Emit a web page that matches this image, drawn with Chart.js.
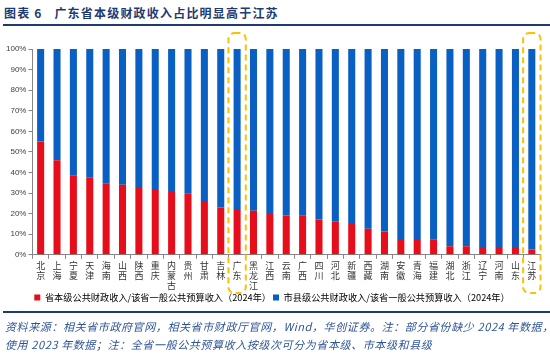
<!DOCTYPE html>
<html>
<head>
<meta charset="utf-8">
<script src="https://cdn.jsdelivr.net/npm/chart.js@4.4.1/dist/chart.umd.min.js"></script>
<style>
  html, body { margin: 0; padding: 0; background: #fff; }
  #wrap { position: relative; width: 550px; height: 355px; overflow: hidden; }
  #title { position: absolute; left: 4px; top: 4px; font: bold 12px "Noto Sans CJK SC", sans-serif; color: #1F3A70; letter-spacing: 1.2px; white-space: nowrap; }
  .rule { position: absolute; left: 3px; width: 547px; height: 2px; background: #1F3A6E; }
  #chartBox { position: absolute; left: 0; top: 28px; width: 550px; height: 284px; }
  #source { position: absolute; left: 5px; top: 317px; font: italic 11px "Noto Sans CJK SC", sans-serif; color: #2F5597; line-height: 18px; letter-spacing: 0.6px; white-space: nowrap; }
</style>
</head>
<body>
<div id="wrap">
  <div id="title">图表 6 &nbsp;&nbsp;广东省本级财政收入占比明显高于江苏</div>
  <div class="rule" style="top:24px"></div>
  <div id="chartBox"><canvas id="c" width="550" height="284"></canvas></div>
  <div class="rule" style="top:311px"></div>
  <div id="source">资料来源：相关省市政府官网，相关省市财政厅官网，Wind，华创证券。注：部分省份缺少 2024 年数据，<br>使用 2023 年数据；注：全省一般公共预算收入按级次可分为省本级、市本级和县级</div>
</div>
<script>
const provinces = ['北京','上海','宁夏','天津','海南','山西','陕西','重庆','内蒙古','贵州','甘肃','吉林','广东','黑龙江','江西','云南','广西','四川','河北','新疆','西藏','湖南','安徽','青海','福建','湖北','浙江','辽宁','河南','山东','江苏'];
const provincialShare = [55.0, 46.0, 38.6, 37.4, 34.8, 34.0, 33.0, 32.0, 30.5, 29.9, 26.1, 23.0, 22.2, 21.4, 19.8, 19.1, 19.0, 17.2, 16.0, 15.5, 12.6, 11.3, 7.7, 7.7, 7.5, 4.2, 4.2, 3.3, 3.3, 3.3, 2.6];
const cityCountyShare = [45.0, 54.0, 61.4, 62.6, 65.2, 66.0, 67.0, 68.0, 69.5, 70.1, 73.9, 77.0, 77.8, 78.6, 80.2, 80.9, 81.0, 82.8, 84.0, 84.5, 87.4, 88.7, 92.3, 92.3, 92.5, 95.8, 95.8, 96.7, 96.7, 96.7, 97.4];
const highlighted = ['广东','江苏'];
const seriesNames = ['省本级公共财政收入/该省一般公共预算收入（2024年）','市县级公共财政收入/该省一般公共预算收入（2024年）'];
const yTicks = [0,10,20,30,40,50,60,70,80,90,100];

const labels = provinces.map(p => p.split(''));

const highlightPlugin = {
  id: 'highlightBoxes',
  afterDraw(chart) {
    const ctx = chart.ctx;
    const xs = chart.scales.x;
    ctx.save();
    ctx.strokeStyle = '#FFC000';
    ctx.lineWidth = 2;
    ctx.setLineDash([6, 4]);
    highlighted.forEach(name => {
      const i = provinces.indexOf(name);
      const cx = xs.getPixelForValue(i);
      const half = xs.width / provinces.length * 0.53;
      const top = 5, bottom = 265;
      ctx.beginPath();
      ctx.roundRect(cx - half, top, half * 2, bottom - top, 6);
      ctx.stroke();
    });
    ctx.restore();
  }
};

new Chart(document.getElementById('c'), {
  type: 'bar',
  data: {
    labels: labels,
    datasets: [
      { label: seriesNames[0], data: provincialShare, backgroundColor: '#E50E1A', barPercentage: 0.43, categoryPercentage: 1.0 },
      { label: seriesNames[1], data: cityCountyShare, backgroundColor: '#0A5FC2', barPercentage: 0.43, categoryPercentage: 1.0 }
    ]
  },
  options: {
    responsive: false,
    animation: false,
    layout: { padding: { top: 21, right: 10, left: 4, bottom: 0 } },
    plugins: {
      legend: {
        position: 'bottom',
        labels: {
          boxWidth: 6, boxHeight: 6, padding: 2,
          color: '#000',
          font: { size: 9.2, family: '"Noto Sans CJK SC", sans-serif' }
        }
      },
      tooltip: { enabled: false }
    },
    scales: {
      x: {
        stacked: true,
        afterFit(scale) { scale.height = 36; },
        grid: { display: true, drawOnChartArea: false, drawTicks: true, tickLength: 4, color: '#868686', offset: true },
        border: { color: '#868686', width: 1 },
        ticks: {
          maxRotation: 0, minRotation: 0, autoSkip: false, padding: 2,
          color: '#333',
          font: { size: 9, family: '"Noto Sans CJK SC", sans-serif', lineHeight: 1.11 }
        }
      },
      y: {
        stacked: true,
        min: 0, max: 100,
        afterBuildTicks(scale) { scale.ticks = yTicks.map(v => ({ value: v })); },
        grid: { display: true, drawOnChartArea: false, drawTicks: true, tickLength: 4, color: '#868686' },
        border: { color: '#868686', width: 1 },
        ticks: {
          callback: v => v + '%',
          color: '#404040', padding: 2,
          font: { size: 8, family: '"Liberation Sans", sans-serif' }
        }
      }
    }
  },
  plugins: [highlightPlugin]
});
</script>
</body>
</html>
